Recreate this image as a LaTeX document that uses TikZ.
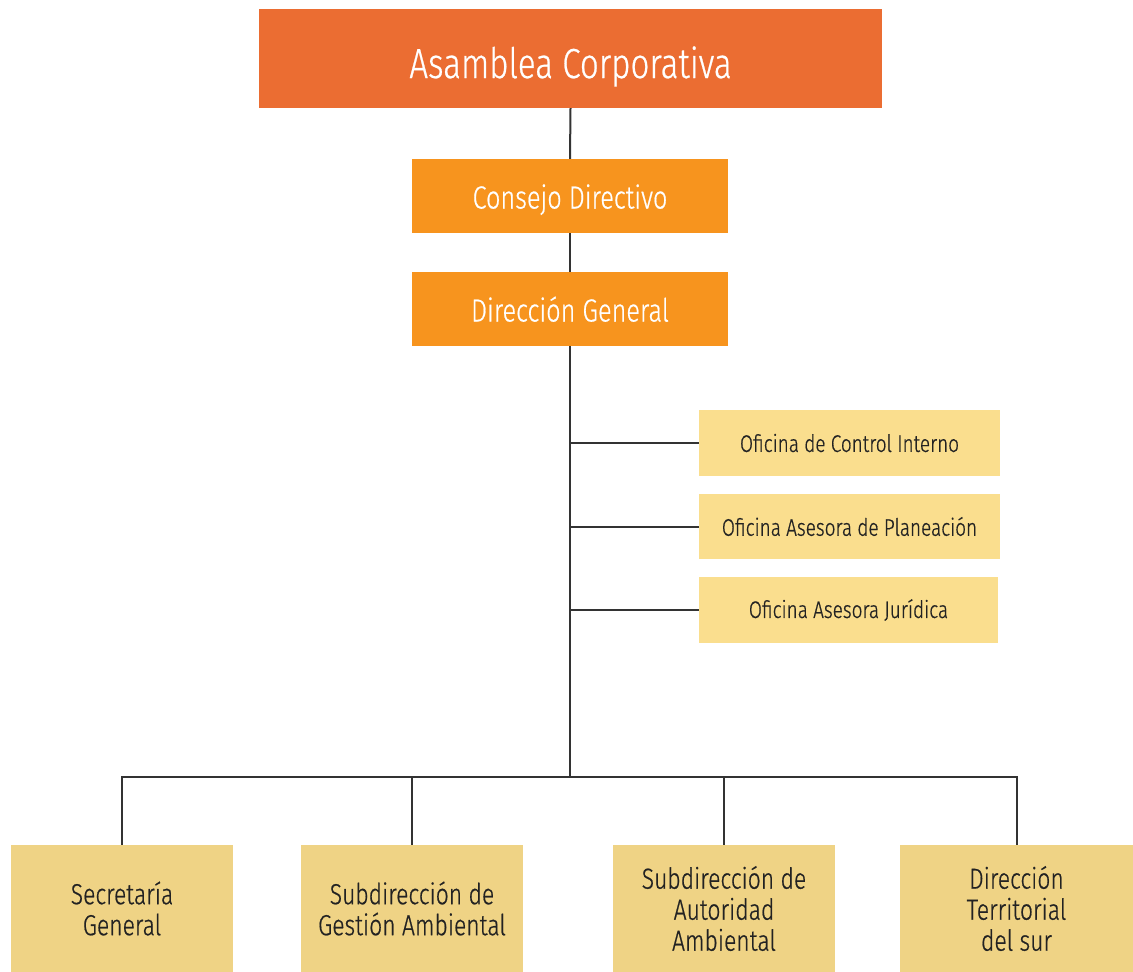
\documentclass[tikz,border=0pt]{standalone}
\usepackage{fontspec}
\setmainfont{Fira Sans}[UprightFont=* Light, FakeStretch=0.79, FakeBold=0.6]
\definecolor{asmcol}{HTML}{EB6D32}
\definecolor{dircol}{HTML}{F7941E}
\definecolor{ofcol}{HTML}{FADE8E}
\definecolor{botcol}{HTML}{EFD385}
\definecolor{txtdark}{HTML}{222222}
\definecolor{linecol}{HTML}{333333}
\begin{document}
\begin{tikzpicture}[x=1pt,y=-1pt,
  box/.style={rectangle,inner sep=0pt,align=center},
  topbox/.style={box,fill=asmcol,text=white,minimum width=623pt,minimum height=99pt,text height=39pt,text depth=0pt,font=\fontsize{42}{46}\selectfont},
  headbox/.style={box,fill=dircol,text=white,minimum width=316pt,minimum height=74pt,text height=25pt,text depth=0pt,font=\fontsize{32}{36}\selectfont},
  offbox/.style={box,fill=ofcol,text=txtdark,minimum height=66pt,font=\fontsize{24}{28}\selectfont},
  botbox/.style={box,fill=botcol,text=txtdark,minimum height=127pt,font=\fontsize{29}{31}\selectfont},
  conn/.style={draw=linecol,line width=2pt}]
\useasboundingbox (0,0) rectangle (1133,972);
\node[topbox] (asm) at (570.5,58.5) {Asamblea Corporativa};
\node[headbox] (cons) at (570,196) {Consejo Directivo};
\node[headbox] (dir) at (570,309) {Dirección General};
\node[offbox,minimum width=301pt] (of1) at (849.5,443) {Oficina de Control Interno};
\node[offbox,minimum width=301pt,minimum height=65pt] (of2) at (849.5,526.5) {Oficina Asesora de Planeación};
\node[offbox,minimum width=299pt] (of3) at (848.5,610) {Oficina Asesora Jurídica};
\node[botbox,minimum width=222pt] (b1) at (122,908.5) {Secretaría\\General};
\node[botbox,minimum width=222pt] (b2) at (412,908.5) {Subdirección de\\Gestión Ambiental};
\node[botbox,minimum width=222pt] (b3) at (724,908.5) {Subdirección de\\Autoridad\\Ambiental};
\node[botbox,minimum width=233pt] (b4) at (1016.5,908.5) {Dirección\\Territorial\\del sur};
\coordinate (bus) at (570,777);
\path[conn] (asm.south) -- (cons.north);
\path[conn] (cons.south) -- (dir.north);
\path[conn] (dir.south) -- (bus);
\path[conn] (dir.south |- of1.west) -- (of1.west);
\path[conn] (dir.south |- of2.west) -- (of2.west);
\path[conn] (dir.south |- of3.west) -- (of3.west);
\path[conn,line cap=rect] (bus -| b1.north) -- (bus -| b4.north);
\path[conn] (bus -| b1.north) -- (b1.north);
\path[conn] (bus -| b2.north) -- (b2.north);
\path[conn] (bus -| b3.north) -- (b3.north);
\path[conn] (bus -| b4.north) -- (b4.north);
\end{tikzpicture}
\end{document}
